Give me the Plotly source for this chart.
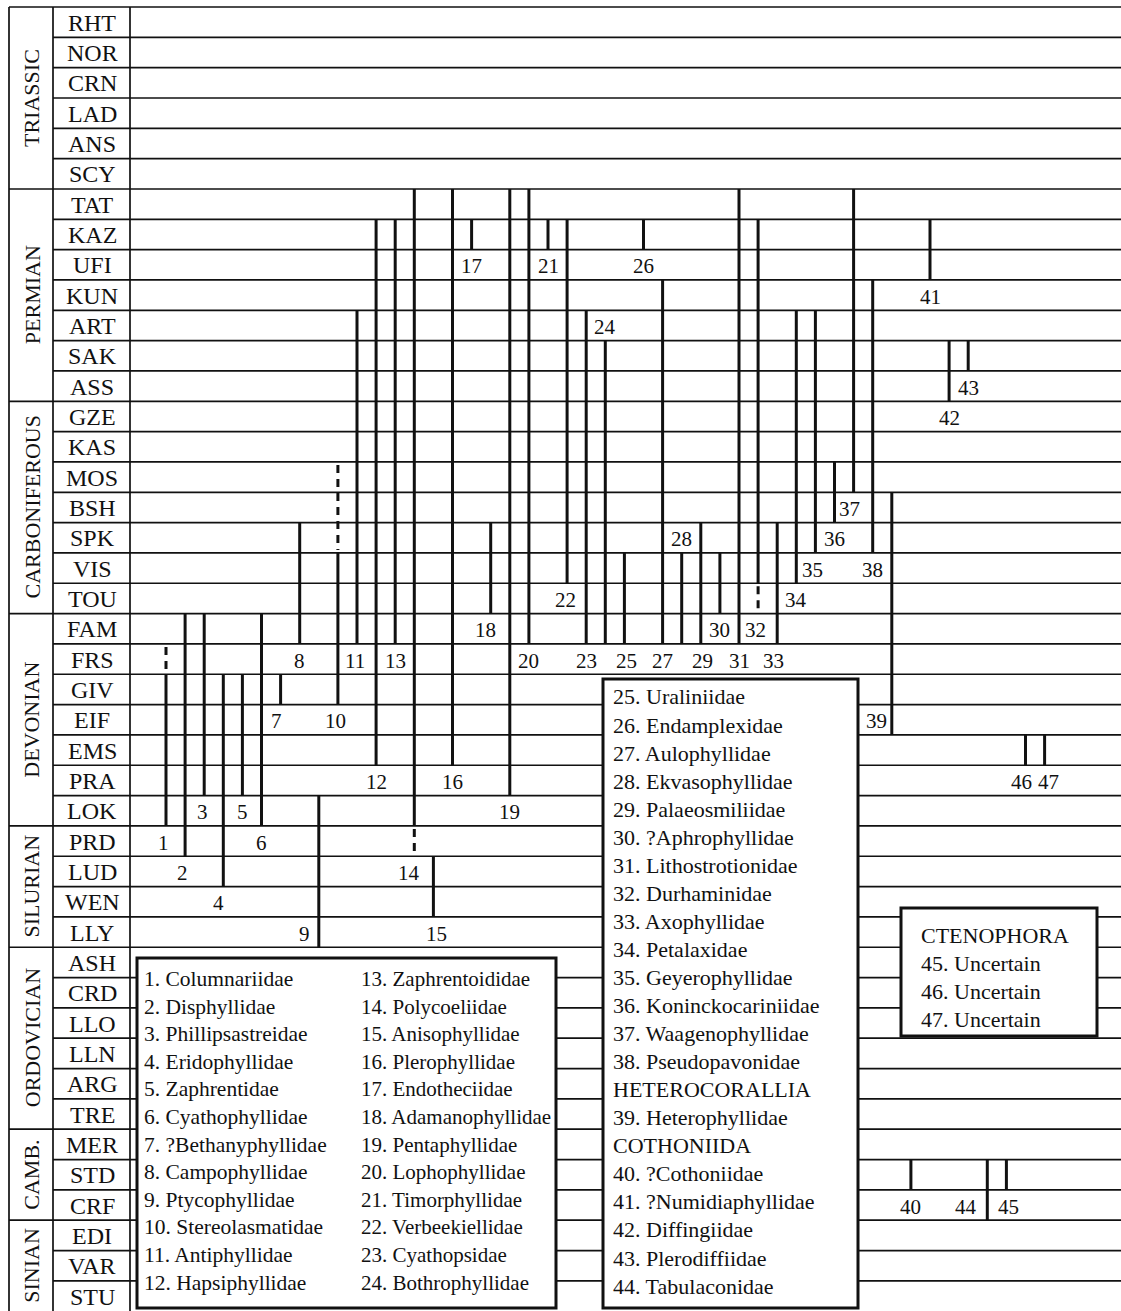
import plotly.graph_objects as go

# ---------------- data ----------------
stages = ["RHT", "NOR", "CRN", "LAD", "ANS", "SCY",
          "TAT", "KAZ", "UFI", "KUN", "ART", "SAK", "ASS",
          "GZE", "KAS", "MOS", "BSH", "SPK", "VIS", "TOU",
          "FAM", "FRS", "GIV", "EIF", "EMS", "PRA", "LOK",
          "PRD", "LUD", "WEN", "LLY",
          "ASH", "CRD", "LLO", "LLN", "ARG", "TRE",
          "MER", "STD", "CRF",
          "EDI", "VAR", "STU"]

period_names = ["TRIASSIC", "PERMIAN", "CARBONIFEROUS", "DEVONIAN",
                "SILURIAN", "ORDOVICIAN", "CAMB.", "SINIAN"]
period_top = ["RHT", "TAT", "GZE", "FAM", "PRD", "ASH", "MER", "EDI"]
period_base = ["SCY", "ASS", "TOU", "LOK", "LLY", "TRE", "CRF", "STU"]

taxon_ids = list(range(1, 48))
range_top = ["GIV", "FAM", "FAM", "GIV", "GIV", "FAM", "GIV", "SPK", "LOK", "VIS",
             "ART", "KAZ", "KAZ", "TAT", "LUD", "TAT", "KAZ", "SPK", "TAT", "TAT",
             "KAZ", "KAZ", "ART", "SAK", "VIS", "KAZ", "KUN", "VIS", "SPK", "VIS",
             "TAT", "KAZ", "SPK", "ART", "ART", "MOS", "TAT", "KUN", "BSH", "STD",
             "KAZ", "SAK", "SAK", "STD", "STD", "EMS", "EMS"]
range_base = ["LOK", "PRD", "PRA", "LUD", "PRA", "LOK", "GIV", "FAM", "LLY", "GIV",
              "FAM", "EMS", "FAM", "LOK", "WEN", "EMS", "KAZ", "TOU", "PRA", "FAM",
              "KAZ", "VIS", "FAM", "FAM", "FAM", "KAZ", "FAM", "FAM", "FAM", "TOU",
              "FAM", "VIS", "FAM", "VIS", "SPK", "BSH", "MOS", "SPK", "EIF", "STD",
              "UFI", "ASS", "SAK", "CRF", "STD", "EMS", "EMS"]

uncertain_ids = [1, 10, 14, 32]
uncertain_top = ["FRS", "MOS", "PRD", "TOU"]
uncertain_base = ["FRS", "SPK", "PRD", "TOU"]

label_stage = ["PRD", "LUD", "LOK", "WEN", "LOK", "PRD", "EIF", "FRS", "LLY", "EIF",
               "FRS", "PRA", "FRS", "LUD", "LLY", "PRA", "UFI", "FAM", "LOK", "FRS",
               "UFI", "TOU", "FRS", "ART", "FRS", "UFI", "FRS", "SPK", "FRS", "FAM",
               "FRS", "FAM", "FRS", "TOU", "VIS", "SPK", "BSH", "VIS", "EIF", "CRF",
               "KUN", "GZE", "ASS", "CRF", "CRF", "PRA", "PRA"]

legend1_col1 = ["1. Columnariidae", "2. Disphyllidae", "3. Phillipsastreidae",
                "4. Eridophyllidae", "5. Zaphrentidae", "6. Cyathophyllidae",
                "7. ?Bethanyphyllidae", "8. Campophyllidae", "9. Ptycophyllidae",
                "10. Stereolasmatidae", "11. Antiphyllidae", "12. Hapsiphyllidae"]
legend1_col2 = ["13. Zaphrentoididae", "14. Polycoeliidae", "15. Anisophyllidae",
                "16. Plerophyllidae", "17. Endotheciidae", "18. Adamanophyllidae",
                "19. Pentaphyllidae", "20. Lophophyllidae", "21. Timorphyllidae",
                "22. Verbeekiellidae", "23. Cyathopsidae", "24. Bothrophyllidae"]
legend2 = ["25. Uraliniidae", "26. Endamplexidae", "27. Aulophyllidae",
           "28. Ekvasophyllidae", "29. Palaeosmiliidae", "30. ?Aphrophyllidae",
           "31. Lithostrotionidae", "32. Durhaminidae", "33. Axophyllidae",
           "34. Petalaxidae", "35. Geyerophyllidae", "36. Koninckocariniidae",
           "37. Waagenophyllidae", "38. Pseudopavonidae", "HETEROCORALLIA",
           "39. Heterophyllidae", "COTHONIIDA", "40. ?Cothoniidae",
           "41. ?Numidiaphyllidae", "42. Diffingiidae", "43. Plerodiffiidae",
           "44. Tabulaconidae"]
legend3 = ["CTENOPHORA", "45. Uncertain", "46. Uncertain", "47. Uncertain"]

# ---------------- geometry / style ----------------
W, H = 1121, 1311
ROW_PX = 30.33
TOP_PX = 7
COL0_PX = 166.0
COL_PX = 19.1
FONT = "Liberation Serif, Times New Roman, serif"
INK = "#111111"

idx = {s: i for i, s in enumerate(stages)}
N = len(stages)


def px2x(p):
    return 1 + (p - COL0_PX) / COL_PX


def px_paper_x(p):
    return p / W


def px_paper_y(p):
    return 1 - p / H


# small horizontal nudges of number labels (pixels)
label_nudge = {1: -3, 2: -3, 3: -2, 4: -5, 7: -4, 9: -14, 10: -2, 11: -2,
               14: -5, 15: 3, 18: -5, 22: -2, 25: 2, 29: 2, 32: -3, 33: -4,
               35: -3, 37: -4, 39: -15, 44: -21, 45: 2, 46: -4, 47: 4}

fig = go.Figure()

# grid: stage boundaries
period_bounds = {idx[t] for t in period_top}
gx, gy = [], []
for k in range(0, N):
    x0 = px2x(9) if (k in period_bounds) else px2x(53)
    gx += [x0, px2x(W), None]
    gy += [k, k, None]
for p in (9, 53, 130):
    gx += [px2x(p), px2x(p), None]
    gy += [0, N, None]
fig.add_trace(go.Scatter(x=gx, y=gy, mode="lines",
                         line=dict(color=INK, width=1.7),
                         hoverinfo="skip", showlegend=False))

# stratigraphic ranges (solid)
rx, ry = [], []
for t, a, b in zip(taxon_ids, range_top, range_base):
    rx += [t, t, None]
    ry += [idx[a], idx[b] + 1, None]
fig.add_trace(go.Scatter(x=rx, y=ry, mode="lines",
                         line=dict(color=INK, width=3),
                         hoverinfo="skip", showlegend=False))

# uncertain parts of ranges (dashed)
ux, uy = [], []
for t, a, b in zip(uncertain_ids, uncertain_top, uncertain_base):
    ux += [t, t, None]
    uy += [idx[a] + 0.1, idx[b] + 1 - 0.1, None]
fig.add_trace(go.Scatter(x=ux, y=uy, mode="lines",
                         line=dict(color=INK, width=3, dash="8px,6px"),
                         hoverinfo="skip", showlegend=False))

annotations = []
# stage labels
for s in stages:
    annotations.append(dict(x=px_paper_x(92), xref="paper", y=idx[s] + 0.52, yref="y",
                            text=s, showarrow=False, xanchor="center", yanchor="middle",
                            font=dict(family=FONT, size=24, color=INK)))
# period labels
for name, a, b in zip(period_names, period_top, period_base):
    annotations.append(dict(x=px_paper_x(32), xref="paper", y=(idx[a] + idx[b] + 1) / 2, yref="y",
                            text=name, showarrow=False, textangle=-90,
                            xanchor="center", yanchor="middle",
                            font=dict(family=FONT, size=22, color=INK)))
# number labels
for t, s in zip(taxon_ids, label_stage):
    annotations.append(dict(x=t + label_nudge.get(t, 0) / COL_PX, y=idx[s] + 0.55,
                            xref="x", yref="y", text=str(t), showarrow=False,
                            xanchor="center", yanchor="middle",
                            font=dict(family=FONT, size=21, color=INK)))


def add_lines(lines, x_px, y0_px, dy_px, size):
    for i, txt in enumerate(lines):
        annotations.append(dict(x=px_paper_x(x_px), y=px_paper_y(y0_px + i * dy_px),
                                xref="paper", yref="paper", text=txt, showarrow=False,
                                xanchor="left", yanchor="middle",
                                font=dict(family=FONT, size=size, color=INK)))


add_lines(legend1_col1, 142, 979, 27.6, 21.5)
add_lines(legend1_col2, 359, 979, 27.6, 21)
add_lines(legend2, 611, 697, 28.05, 22)
add_lines(legend3, 919, 935, 28, 22)

shapes = []
for (x0, y0, x1, y1) in [(137, 958, 556, 1308), (603, 679, 858, 1308), (901, 908, 1097, 1036)]:
    shapes.append(dict(type="rect", xref="paper", yref="paper",
                       x0=px_paper_x(x0), x1=px_paper_x(x1),
                       y0=px_paper_y(y0), y1=px_paper_y(y1),
                       line=dict(color=INK, width=3), fillcolor="white", layer="above"))

fig.update_layout(
    width=W, height=H,
    margin=dict(l=0, r=0, t=0, b=0),
    paper_bgcolor="white", plot_bgcolor="white",
    xaxis=dict(range=[px2x(0), px2x(W)], visible=False, fixedrange=True),
    yaxis=dict(range=[(H - TOP_PX) / ROW_PX, -TOP_PX / ROW_PX], visible=False, fixedrange=True),
    annotations=annotations,
    shapes=shapes,
    showlegend=False,
)

fig.write_html("out.html")
